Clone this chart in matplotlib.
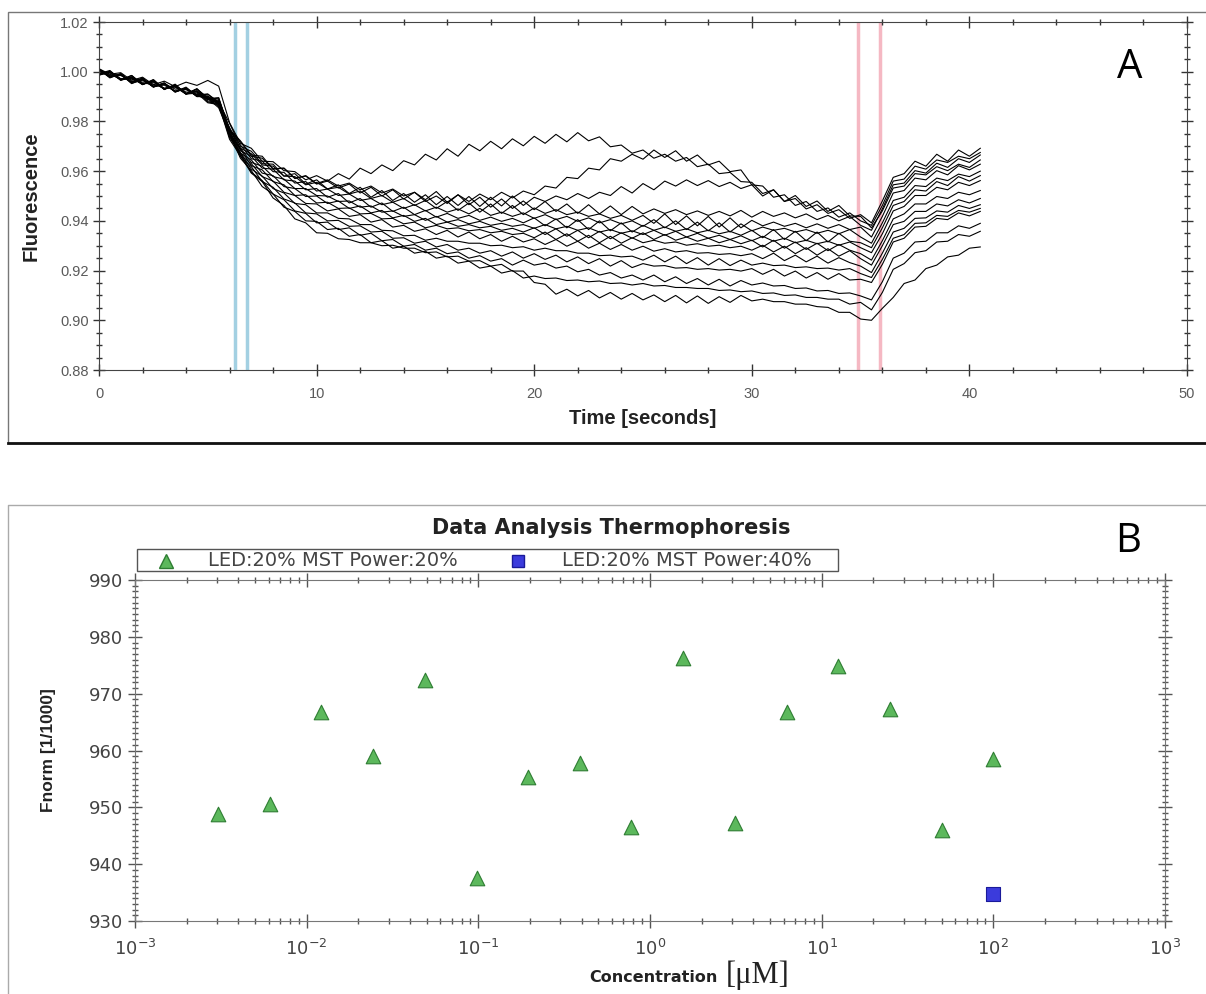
# MST traces (A) and thermophoresis dose response (B)

import numpy as np
import matplotlib.pyplot as plt
from matplotlib.patches import Rectangle
from matplotlib.lines import Line2D
from matplotlib.ticker import MultipleLocator, LogLocator, NullFormatter

plt.rcParams['font.family'] = ['Liberation Sans', 'DejaVu Sans']

# -------------------------------
# Panel A data: fluorescence traces, sampled every 0.5 s (values x 1e-4)
# -------------------------------
time_s = np.arange(0, 40.51, 0.5)

f01 = [10012, 9990, 9996, 9965, 9978, 9948, 9962, 9940, 9958, 9945,
       9965, 9942, 9795, 9712, 9692, 9640, 9638, 9602, 9598, 9565,
       9582, 9560, 9590, 9568, 9612, 9590, 9625, 9602, 9642, 9625,
       9668, 9645, 9690, 9660, 9708, 9682, 9720, 9690, 9730, 9702,
       9740, 9712, 9748, 9718, 9755, 9722, 9738, 9698, 9705, 9672,
       9685, 9652, 9668, 9640, 9655, 9618, 9628, 9590, 9595, 9558,
       9555, 9510, 9525, 9478, 9490, 9448, 9465, 9430, 9445, 9410,
       9425, 9392, 9480, 9575, 9590, 9640, 9620, 9668, 9640, 9685,
       9660, 9692]
f02 = [9992, 10005, 9968, 9985, 9950, 9962, 9930, 9948, 9912, 9930,
       9895, 9890, 9768, 9722, 9665, 9660, 9608, 9612, 9572, 9580,
       9548, 9560, 9532, 9548, 9512, 9535, 9500, 9525, 9488, 9515,
       9478, 9500, 9470, 9505, 9478, 9508, 9485, 9515, 9492, 9520,
       9505, 9540, 9532, 9575, 9570, 9612, 9605, 9650, 9640, 9668,
       9648, 9685, 9655, 9682, 9640, 9665, 9625, 9640, 9598, 9605,
       9545, 9540, 9495, 9505, 9462, 9478, 9438, 9452, 9415, 9432,
       9400, 9382, 9462, 9560, 9568, 9620, 9608, 9645, 9635, 9660,
       9650, 9675]
f03 = [10008, 9978, 9990, 9958, 9972, 9938, 9955, 9920, 9938, 9902,
       9910, 9878, 9792, 9700, 9680, 9630, 9628, 9580, 9590, 9548,
       9565, 9528, 9545, 9510, 9535, 9495, 9522, 9482, 9510, 9475,
       9505, 9465, 9498, 9462, 9498, 9458, 9495, 9460, 9500, 9462,
       9495, 9478, 9500, 9485, 9510, 9490, 9515, 9502, 9538, 9512,
       9550, 9525, 9560, 9540, 9565, 9542, 9562, 9538, 9555, 9530,
       9545, 9500, 9525, 9478, 9502, 9458, 9480, 9438, 9462, 9420,
       9418, 9372, 9440, 9532, 9540, 9590, 9585, 9618, 9602, 9628,
       9615, 9645]
f04 = [9988, 9998, 9968, 9975, 9948, 9968, 9930, 9945, 9910, 9930,
       9888, 9895, 9762, 9718, 9660, 9652, 9610, 9612, 9570, 9582,
       9550, 9565, 9540, 9552, 9525, 9540, 9512, 9528, 9500, 9515,
       9485, 9518, 9475, 9505, 9465, 9495, 9455, 9488, 9450, 9480,
       9445, 9478, 9438, 9468, 9430, 9465, 9428, 9460, 9425, 9458,
       9428, 9448, 9430, 9445, 9425, 9440, 9422, 9438, 9420, 9442,
       9415, 9438, 9418, 9432, 9412, 9428, 9405, 9422, 9400, 9418,
       9382, 9362, 9448, 9545, 9552, 9602, 9592, 9632, 9615, 9650,
       9635, 9665]
f05 = [10010, 9975, 9992, 9958, 9975, 9942, 9955, 9918, 9935, 9900,
       9902, 9868, 9775, 9692, 9670, 9625, 9620, 9580, 9578, 9545,
       9555, 9528, 9535, 9508, 9520, 9490, 9502, 9475, 9490, 9462,
       9482, 9450, 9478, 9442, 9472, 9435, 9468, 9430, 9462, 9425,
       9452, 9430, 9445, 9425, 9435, 9418, 9428, 9410, 9422, 9402,
       9422, 9390, 9428, 9385, 9420, 9380, 9418, 9375, 9412, 9372,
       9402, 9380, 9395, 9378, 9390, 9372, 9388, 9370, 9385, 9365,
       9375, 9335, 9418, 9512, 9522, 9572, 9565, 9602, 9585, 9622,
       9605, 9628]
f06 = [9985, 10002, 9965, 9985, 9948, 9968, 9928, 9950, 9910, 9932,
       9892, 9895, 9765, 9705, 9650, 9640, 9598, 9595, 9552, 9558,
       9520, 9528, 9502, 9508, 9482, 9490, 9465, 9475, 9450, 9465,
       9440, 9455, 9435, 9448, 9428, 9450, 9422, 9435, 9418, 9432,
       9410, 9425, 9405, 9418, 9398, 9412, 9392, 9405, 9388, 9400,
       9378, 9405, 9372, 9400, 9365, 9395, 9360, 9392, 9355, 9388,
       9360, 9375, 9362, 9370, 9355, 9365, 9350, 9362, 9348, 9365,
       9335, 9310, 9392, 9482, 9495, 9542, 9538, 9572, 9562, 9588,
       9578, 9600]
f07 = [10006, 9980, 9985, 9960, 9972, 9940, 9952, 9930, 9930, 9908,
       9910, 9872, 9772, 9682, 9660, 9612, 9608, 9565, 9560, 9525,
       9530, 9495, 9510, 9472, 9490, 9455, 9472, 9438, 9455, 9425,
       9442, 9415, 9430, 9410, 9422, 9402, 9415, 9398, 9410, 9392,
       9412, 9380, 9408, 9372, 9405, 9365, 9400, 9360, 9392, 9355,
       9382, 9362, 9375, 9358, 9368, 9352, 9362, 9348, 9358, 9342,
       9362, 9332, 9365, 9325, 9358, 9320, 9355, 9315, 9350, 9318,
       9312, 9292, 9372, 9462, 9478, 9525, 9520, 9558, 9542, 9578,
       9560, 9582]
f08 = [9990, 10000, 9972, 9970, 9958, 9960, 9932, 9940, 9918, 9918,
       9888, 9885, 9752, 9692, 9635, 9620, 9578, 9568, 9530, 9530,
       9502, 9500, 9478, 9480, 9455, 9460, 9435, 9440, 9418, 9425,
       9402, 9418, 9395, 9405, 9388, 9398, 9382, 9390, 9378, 9385,
       9370, 9385, 9368, 9378, 9362, 9372, 9355, 9365, 9350, 9360,
       9345, 9362, 9342, 9358, 9335, 9350, 9330, 9342, 9325, 9340,
       9320, 9338, 9318, 9330, 9312, 9322, 9308, 9318, 9302, 9315,
       9292, 9272, 9348, 9440, 9458, 9502, 9502, 9535, 9525, 9555,
       9542, 9562]
f09 = [10010, 9982, 9990, 9952, 9970, 9938, 9952, 9920, 9932, 9900,
       9900, 9868, 9765, 9672, 9645, 9592, 9582, 9538, 9530, 9498,
       9500, 9470, 9480, 9450, 9460, 9432, 9442, 9412, 9422, 9398,
       9410, 9385, 9395, 9378, 9385, 9372, 9378, 9362, 9370, 9355,
       9372, 9345, 9368, 9338, 9362, 9332, 9358, 9328, 9352, 9330,
       9352, 9325, 9345, 9322, 9335, 9318, 9330, 9312, 9325, 9308,
       9322, 9295, 9322, 9290, 9315, 9285, 9310, 9280, 9305, 9282,
       9268, 9242, 9320, 9408, 9428, 9468, 9468, 9498, 9490, 9515,
       9505, 9522]
f10 = [9992, 9998, 9968, 9980, 9950, 9964, 9932, 9944, 9912, 9924,
       9890, 9880, 9748, 9688, 9622, 9605, 9558, 9545, 9502, 9505,
       9472, 9475, 9450, 9452, 9428, 9430, 9408, 9410, 9388, 9395,
       9372, 9382, 9368, 9372, 9360, 9365, 9352, 9358, 9345, 9350,
       9332, 9355, 9325, 9348, 9318, 9342, 9312, 9338, 9310, 9332,
       9312, 9322, 9310, 9315, 9302, 9308, 9298, 9302, 9292, 9298,
       9282, 9302, 9275, 9298, 9268, 9292, 9262, 9288, 9258, 9280,
       9248, 9222, 9300, 9385, 9398, 9438, 9438, 9468, 9460, 9485,
       9472, 9490]
f11 = [10008, 9978, 9988, 9958, 9968, 9940, 9950, 9922, 9928, 9905,
       9902, 9870, 9758, 9665, 9630, 9578, 9560, 9515, 9502, 9470,
       9468, 9440, 9448, 9418, 9425, 9395, 9405, 9375, 9382, 9358,
       9368, 9345, 9362, 9335, 9355, 9328, 9345, 9318, 9338, 9315,
       9328, 9305, 9325, 9298, 9318, 9290, 9310, 9285, 9305, 9282,
       9298, 9278, 9288, 9275, 9280, 9270, 9272, 9265, 9268, 9260,
       9268, 9248, 9270, 9240, 9262, 9235, 9258, 9230, 9252, 9232,
       9218, 9192, 9270, 9355, 9370, 9410, 9412, 9440, 9435, 9462,
       9450, 9465]
f12 = [9988, 10002, 9970, 9978, 9950, 9962, 9930, 9945, 9912, 9922,
       9882, 9878, 9740, 9675, 9608, 9580, 9530, 9512, 9470, 9465,
       9432, 9432, 9410, 9408, 9385, 9385, 9362, 9360, 9340, 9342,
       9322, 9330, 9318, 9318, 9310, 9310, 9300, 9302, 9292, 9296,
       9282, 9290, 9280, 9280, 9270, 9270, 9260, 9262, 9255, 9258,
       9242, 9262, 9235, 9258, 9228, 9252, 9222, 9248, 9220, 9242,
       9222, 9230, 9220, 9222, 9212, 9215, 9208, 9210, 9202, 9208,
       9188, 9172, 9245, 9330, 9345, 9390, 9392, 9422, 9418, 9442,
       9435, 9450]
f13 = [10012, 9980, 9992, 9956, 9970, 9940, 9952, 9918, 9934, 9902,
       9895, 9860, 9752, 9658, 9618, 9558, 9535, 9488, 9472, 9432,
       9428, 9400, 9402, 9378, 9380, 9355, 9358, 9330, 9332, 9310,
       9318, 9295, 9305, 9282, 9290, 9270, 9280, 9258, 9275, 9250,
       9268, 9245, 9262, 9235, 9255, 9228, 9248, 9218, 9240, 9212,
       9228, 9218, 9220, 9210, 9212, 9205, 9208, 9202, 9205, 9198,
       9208, 9185, 9205, 9178, 9198, 9170, 9192, 9165, 9188, 9162,
       9165, 9152, 9225, 9315, 9330, 9375, 9378, 9410, 9405, 9432,
       9420, 9438]
f14 = [9990, 9996, 9966, 9976, 9950, 9958, 9930, 9941, 9910, 9920,
       9878, 9872, 9735, 9670, 9595, 9562, 9508, 9485, 9440, 9430,
       9392, 9395, 9365, 9372, 9342, 9350, 9320, 9325, 9298, 9305,
       9282, 9290, 9268, 9275, 9250, 9260, 9238, 9248, 9222, 9242,
       9222, 9230, 9210, 9218, 9195, 9205, 9182, 9192, 9170, 9182,
       9162, 9182, 9155, 9175, 9148, 9168, 9142, 9165, 9138, 9160,
       9142, 9150, 9138, 9140, 9128, 9130, 9118, 9120, 9108, 9110,
       9098, 9082, 9155, 9250, 9270, 9315, 9318, 9352, 9352, 9380,
       9370, 9390]
f15 = [10008, 9984, 9988, 9954, 9966, 9942, 9946, 9922, 9930, 9904,
       9892, 9855, 9748, 9652, 9602, 9538, 9508, 9455, 9438, 9400,
       9398, 9365, 9370, 9338, 9345, 9312, 9320, 9290, 9298, 9270,
       9278, 9250, 9258, 9230, 9238, 9210, 9218, 9190, 9200, 9170,
       9178, 9168, 9170, 9160, 9162, 9155, 9158, 9148, 9150, 9142,
       9148, 9138, 9140, 9132, 9132, 9128, 9128, 9120, 9122, 9115,
       9118, 9108, 9110, 9100, 9102, 9092, 9092, 9085, 9085, 9065,
       9072, 9042, 9112, 9205, 9228, 9272, 9280, 9315, 9318, 9345,
       9338, 9358]
f16 = [9992, 9990, 9970, 9974, 9954, 9950, 9934, 9938, 9910, 9914,
       9875, 9868, 9728, 9662, 9592, 9558, 9492, 9462, 9408, 9392,
       9352, 9350, 9328, 9325, 9312, 9312, 9300, 9302, 9290, 9290,
       9272, 9275, 9255, 9258, 9238, 9240, 9218, 9225, 9198, 9198,
       9152, 9145, 9105, 9125, 9098, 9120, 9090, 9112, 9085, 9108,
       9082, 9102, 9075, 9100, 9070, 9098, 9068, 9095, 9072, 9100,
       9078, 9085, 9075, 9075, 9065, 9065, 9055, 9052, 9032, 9032,
       9005, 9000, 9048, 9092, 9148, 9162, 9208, 9222, 9255, 9262,
       9290, 9295]

traces = [f01, f02, f03, f04, f05, f06, f07, f08,
          f09, f10, f11, f12, f13, f14, f15, f16]

cold_lines = [6.25, 6.78]    # blue markers (s)
hot_lines = [34.9, 35.9]     # red markers (s)

# -------------------------------
# Panel B data: dilution series
# -------------------------------
conc_uM = [0.00305, 0.0061, 0.0122, 0.0244, 0.0488, 0.0977, 0.195, 0.39,
           0.78, 1.5625, 3.125, 6.25, 12.5, 25, 50, 100]
fnorm_20 = [948.8, 950.6, 966.8, 959.0, 972.4, 937.5, 955.3, 957.8,
            946.6, 976.3, 947.2, 966.8, 974.9, 967.3, 946.0, 958.5]
conc_40 = [100]
fnorm_40 = [934.7]

# -------------------------------
# Figure
# -------------------------------
fig = plt.figure(figsize=(12.06, 9.94), dpi=100)
W, H = 1206, 994

# panel frames
fig.add_artist(Rectangle((8 / W, 1 - 443 / H), 1.0, 431 / H, transform=fig.transFigure,
                         fill=False, edgecolor='#777777', lw=1.0))
fig.add_artist(Line2D([8 / W, 1.0], [1 - 443 / H, 1 - 443 / H], transform=fig.transFigure,
                      color='#111111', lw=2.0))
fig.add_artist(Line2D([8 / W, 8 / W, 1.0], [0.0, 1 - 505 / H, 1 - 505 / H],
                      transform=fig.transFigure, color='#aaaaaa', lw=1.0))

# ----- Panel A -----
axA = fig.add_axes([99 / W, 1 - 370 / H, 1088 / W, 348 / H])
for tr in traces:
    axA.plot(time_s, np.array(tr) / 10000.0, color='black', lw=0.8)
for t in cold_lines:
    axA.axvline(t, color='#a3d0e2', lw=2.5, zorder=0)
for t in hot_lines:
    axA.axvline(t, color='#f5b8c3', lw=2.5, zorder=0)

axA.set_xlim(0, 50)
axA.set_ylim(0.88, 1.02)
axA.xaxis.set_major_locator(MultipleLocator(10))
axA.xaxis.set_minor_locator(MultipleLocator(2))
axA.yaxis.set_major_locator(MultipleLocator(0.02))
axA.yaxis.set_minor_locator(MultipleLocator(0.005))
axA.yaxis.set_major_formatter(plt.FormatStrFormatter('%.2f'))
axA.tick_params(which='both', direction='inout', top=True, right=True,
                colors='#333333', labelcolor='#5a5a5a', labelsize=10.5)
axA.tick_params(which='major', length=8, width=1)
axA.tick_params(which='minor', length=5, width=1)
axA.tick_params(axis='x', which='major', pad=8)
for s in axA.spines.values():
    s.set_color('#444444')
axA.set_xlabel('Time [seconds]', fontsize=14.5, fontweight='bold', color='#222222', labelpad=6)
axA.set_ylabel('Fluorescence', fontsize=14.5, fontweight='bold', color='#222222', labelpad=14)
fig.text(1130 / W, 1 - 68 / H, 'A', fontsize=29, ha='center', va='center',
         family=['Open Sans', 'DejaVu Sans'])

# ----- Panel B -----
wide = ['DejaVu Sans']
axB = fig.add_axes([135 / W, 1 - 921 / H, 1030 / W, 341 / H])
axB.scatter(conc_uM, fnorm_20, marker='^', s=110, color='#5cb85c',
            edgecolors='#2e7d32', linewidths=0.8, zorder=3)
axB.scatter(conc_40, fnorm_40, marker='s', s=110, color='#3b3bdc',
            edgecolors='#1a1a9a', linewidths=0.8, zorder=3)

axB.set_xscale('log')
axB.set_xlim(1e-3, 1e3)
axB.set_ylim(930, 990)
axB.xaxis.set_major_locator(LogLocator(base=10, numticks=10))
axB.xaxis.set_minor_locator(LogLocator(base=10, subs=np.arange(2, 10), numticks=20))
axB.xaxis.set_minor_formatter(NullFormatter())
axB.yaxis.set_major_locator(MultipleLocator(10))
axB.yaxis.set_minor_locator(MultipleLocator(1))
axB.tick_params(which='both', direction='inout', top=True, right=True,
                colors='#555555', labelcolor='#444444', labelsize=13)
axB.tick_params(which='major', length=10, width=1)
axB.tick_params(which='minor', length=5, width=1)
axB.tick_params(axis='x', which='major', pad=8)
for lab in axB.get_xticklabels() + axB.get_yticklabels():
    lab.set_family(wide)
for s in axB.spines.values():
    s.set_color('#777777')

axB.set_ylabel('Fnorm [1/1000]', fontsize=12.5, fontweight='bold', color='#222222',
               labelpad=24, family=['Liberation Sans Narrow', 'Liberation Sans'])
fig.text(718 / W, 1 - 978 / H, 'Concentration', fontsize=11.5, fontweight='bold',
         color='#222222', ha='right', va='center', family=wide)
fig.text(726 / W, 1 - 975 / H, '[\u03bcM]', fontsize=22, ha='left', va='center',
         family=['Liberation Serif', 'DejaVu Serif'], color='#222222')
fig.text(611 / W, 1 - 528 / H, 'Data Analysis Thermophoresis', fontsize=15,
         fontweight='bold', color='#222222', ha='center', va='center', family=wide)
fig.text(1128 / W, 1 - 542 / H, 'B', fontsize=29, ha='center', va='center',
         family=['Open Sans', 'DejaVu Sans'])

# legend box above the plot
fig.add_artist(Rectangle((137 / W, 1 - 571 / H), 701 / W, 22 / H, transform=fig.transFigure,
                         fill=False, edgecolor='#555555', lw=1.0))
fig.add_artist(Line2D([166 / W], [1 - 561 / H], marker='^', markersize=10, color='#5cb85c',
                      markeredgecolor='#2e7d32', transform=fig.transFigure))
fig.add_artist(Line2D([518 / W], [1 - 561 / H], marker='s', markersize=8, color='#3b3bdc',
                      markeredgecolor='#1a1a9a', transform=fig.transFigure))
fig.text(208 / W, 1 - 560 / H, 'LED:20% MST Power:20%', fontsize=14, color='#444444',
         ha='left', va='center', family=wide)
fig.text(562 / W, 1 - 560 / H, 'LED:20% MST Power:40%', fontsize=14, color='#444444',
         ha='left', va='center', family=wide)

fig.savefig('out.png', dpi=100)
